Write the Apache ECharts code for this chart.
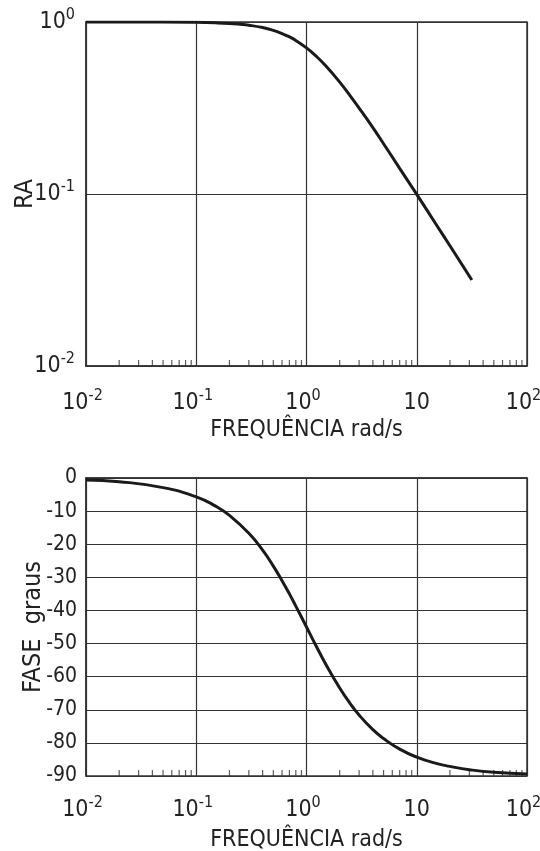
<!DOCTYPE html>
<html>
<head>
<meta charset="utf-8">
<script src="https://cdn.jsdelivr.net/npm/echarts@6/dist/echarts.min.js"></script>
<style>
html,body{margin:0;padding:0;background:#fff;}
#chart{width:540px;height:851px;}
</style>
</head>
<body>
<div id="chart"></div>
<script>
// ---- data ----
const raFreq = [0.01, 0.05, 0.1, 0.15, 0.2, 0.25, 0.3, 0.4, 0.5, 0.6, 0.7, 0.8, 1, 1.2, 1.5, 2, 2.5, 3, 4, 5, 7, 10, 15, 20, 31.6];
const raValues = [1.0, 0.999, 0.995, 0.989, 0.981, 0.970, 0.958, 0.928, 0.894, 0.857, 0.819, 0.781, 0.707, 0.640, 0.555, 0.447, 0.371, 0.316, 0.243, 0.196, 0.141, 0.0995, 0.0665, 0.050, 0.0316];
const phaseFreq = [0.01, 0.02, 0.05, 0.1, 0.15, 0.2, 0.3, 0.4, 0.5, 0.6, 0.7, 0.8, 1, 1.2, 1.5, 2, 2.5, 3, 4, 5, 7, 10, 15, 20, 30, 50, 100];
const phaseValues = [-0.6, -1.1, -2.9, -5.7, -8.5, -11.3, -16.7, -21.8, -26.6, -31.0, -35.0, -38.7, -45.0, -50.2, -56.3, -63.4, -68.2, -71.6, -76.0, -78.7, -81.9, -84.3, -86.2, -87.1, -88.1, -88.9, -89.4];
const decades = [0.01, 0.1, 1, 10];
const minorMultipliers = [2, 3, 4, 5, 6, 7, 8, 9];
const xAxisName = 'FREQUÊNCIA rad/s';
const raAxisName = 'RA';
const phaseAxisName = 'FASE  graus';

const FONT = "'Liberation Sans Narrow', 'Arial Narrow', 'DejaVu Sans Condensed', 'Liberation Sans', sans-serif";
const INK = '#222';

const minorTicks = [];
decades.forEach(d => minorMultipliers.forEach(m => minorTicks.push(+(d * m).toPrecision(3))));

function powLabelX(v) {
  const e = Math.round(Math.log10(v));
  if (e === 1) return '{b|10}';
  return '{b|10}{s|' + e + '}{g| }';
}
function powLabelY(v) {
  const e = Math.round(Math.log10(v));
  if (e === 1) return '{b|10}';
  return '{b|10}{s|' + e + '}';
}
const richPow = {
  b: {fontSize: 23, fontFamily: FONT, color: INK, lineHeight: 30},
  s: {fontSize: 16, fontFamily: FONT, color: INK, verticalAlign: 'top', lineHeight: 16},
  g: {fontSize: 10, width: 7}
};

const chart = echarts.init(document.getElementById('chart'), null, {renderer: 'canvas'});
const axisLineStyle = {lineStyle: {color: '#333', width: 1.5}};
const splitLineStyle = {show: true, lineStyle: {color: '#333', width: 1.2}};

chart.setOption({
  animation: false,
  backgroundColor: '#fff',
  grid: [
    {left: 86, right: 13, top: 22, height: 344, show: true, borderColor: '#333', borderWidth: 1.5, backgroundColor: 'transparent', containLabel: false, outerBoundsMode: 'none'},
    {left: 86, right: 13, top: 478, height: 298, show: true, borderColor: '#333', borderWidth: 1.5, backgroundColor: 'transparent', containLabel: false, outerBoundsMode: 'none'}
  ],
  xAxis: [
    {type: 'log', logBase: 10, gridIndex: 0, min: 0.01, max: 100, splitNumber: 4,
     axisLine: axisLineStyle, axisTick: {show: false}, splitLine: splitLineStyle,
     axisLabel: {formatter: powLabelX, rich: richPow, margin: 22, color: INK},
     name: xAxisName, nameLocation: 'middle', nameGap: 53, nameMoveOverlap: false,
     nameTextStyle: {fontSize: 23, fontFamily: FONT, color: INK}},
    {type: 'log', logBase: 10, gridIndex: 1, min: 0.01, max: 100, splitNumber: 4,
     axisLine: axisLineStyle, axisTick: {show: false}, splitLine: splitLineStyle,
     axisLabel: {formatter: powLabelX, rich: richPow, margin: 19, color: INK},
     name: xAxisName, nameLocation: 'middle', nameGap: 53, nameMoveOverlap: false,
     nameTextStyle: {fontSize: 23, fontFamily: FONT, color: INK}}
  ],
  yAxis: [
    {type: 'log', logBase: 10, gridIndex: 0, min: 0.01, max: 1,
     axisLine: axisLineStyle, axisTick: {show: false}, splitLine: splitLineStyle,
     axisLabel: {formatter: powLabelY, rich: richPow, margin: 11, color: INK},
     name: raAxisName, nameLocation: 'middle', nameGap: 48, nameMoveOverlap: false,
     nameTextStyle: {fontSize: 25, fontFamily: FONT, color: INK}},
    {type: 'value', gridIndex: 1, min: -90, max: 0, interval: 10,
     axisLine: axisLineStyle, axisTick: {show: false}, splitLine: splitLineStyle,
     axisLabel: {fontSize: 21, fontFamily: FONT, color: INK, margin: 9},
     name: phaseAxisName, nameLocation: 'middle', nameGap: 40, nameMoveOverlap: false,
     nameTextStyle: {fontSize: 25, fontFamily: FONT, color: INK}}
  ],
  series: [
    {type: 'line', xAxisIndex: 0, yAxisIndex: 0, showSymbol: false, smooth: true,
     data: raFreq.map((f, i) => [f, raValues[i]]),
     lineStyle: {color: '#1a1a1a', width: 3}, z: 5},
    {type: 'line', xAxisIndex: 1, yAxisIndex: 1, showSymbol: false, smooth: true,
     data: phaseFreq.map((f, i) => [f, phaseValues[i]]),
     lineStyle: {color: '#1a1a1a', width: 3}, z: 5},
    {type: 'scatter', xAxisIndex: 0, yAxisIndex: 0, silent: true, clip: false,
     symbol: 'rect', symbolSize: [1.2, 6], symbolOffset: [0, -3],
     itemStyle: {color: '#333'}, data: minorTicks.map(v => [v, 0.01]), z: 4},
    {type: 'scatter', xAxisIndex: 1, yAxisIndex: 1, silent: true, clip: false,
     symbol: 'rect', symbolSize: [1.2, 6], symbolOffset: [0, -3],
     itemStyle: {color: '#333'}, data: minorTicks.map(v => [v, -90]), z: 4}
  ]
});
</script>
</body>
</html>
